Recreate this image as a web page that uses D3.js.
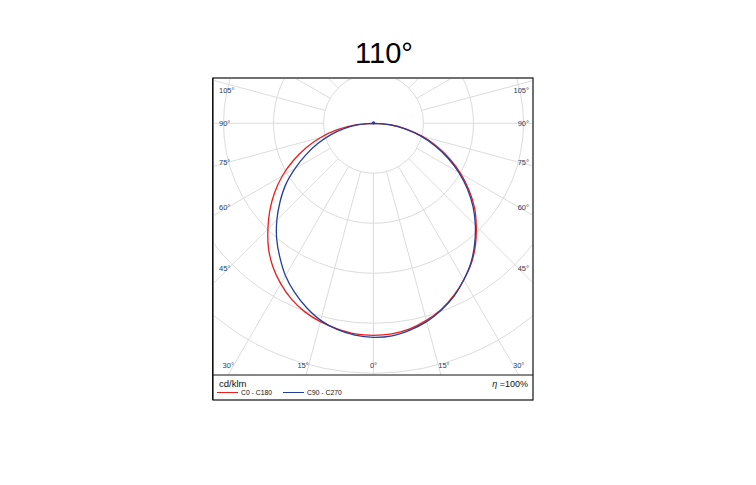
<!DOCTYPE html>
<html><head><meta charset="utf-8">
<script src="https://cdn.jsdelivr.net/npm/d3@7/dist/d3.min.js"></script>
<style>body{margin:0;background:#fff}</style>
</head><body>
<svg id="chart" width="756" height="485"></svg>
<script>
// ---- data (cd/klm, angle measured from nadir) ----
const title = "110°";
const angles = [0,5,10,15,20,25,30,35,40,45,50,55,60,65,70,75,80,85,90];
const c0   = [318,317,313,306,297,285,271,256,238,218,198,175,151,126,101,76,50,25,0];
const c180 = [318,317,313,308,301,291,278,263,245,224,203,181,158,133,108,82,55,27,0];
const c90  = [321,320,315,308,298,286,271,255,236,216,195,172,148,123,98,73,48,24,0];
const c270 = [321,319,314,306,294,280,264,245,226,205,183,161,136,112,89,66,44,22,0];
const gridValues = [75,150,225,300,375];
const spokeAngles = d3.range(0,360,15);
const angleLabels = [0,15,30,45,60,75,90,105];
const seriesNames = ["C0 - C180","C90 - C270"];
const seriesColors = ["#ee1c1c","#233f9a"];
const unit = "cd/klm";
const efficiency = "100%";

// ---- layout ----
const svg = d3.select("#chart");
const F = {l:213, t:78, r:533, b:400, sep:375};
const cx = 373.5, cy = 123.3;
const rScale = d3.scaleLinear().domain([0,375]).range([0,250]);
const rad = d => d*Math.PI/180;
const px = (v,a) => cx + rScale(v)*Math.sin(rad(a));
const py = (v,a) => cy + rScale(v)*Math.cos(rad(a));

svg.append("text").attr("x",384).attr("y",63).attr("text-anchor","middle")
  .attr("font-family","Liberation Sans, Arial, sans-serif").attr("font-size",29)
  .attr("fill","#000").text(title);

svg.append("clipPath").attr("id","plotclip").append("rect")
  .attr("x",F.l+1).attr("y",F.t+1).attr("width",F.r-F.l-2).attr("height",F.sep-F.t-1);

const g = svg.append("g").attr("clip-path","url(#plotclip)");
g.selectAll("circle.grid").data(gridValues).join("circle")
  .attr("cx",cx).attr("cy",cy).attr("r",d=>rScale(d))
  .attr("fill","none").attr("stroke","#dcdcdc").attr("stroke-width",1);
g.selectAll("line.spoke").data(spokeAngles).join("line")
  .attr("x1",a=>px(gridValues[0],a)).attr("y1",a=>py(gridValues[0],a))
  .attr("x2",a=>px(700,a)).attr("y2",a=>py(700,a))
  .attr("stroke","#dcdcdc").attr("stroke-width",1);

const line = d3.line().x(d=>px(d.v,d.a)).y(d=>py(d.v,d.a)).curve(d3.curveCatmullRom);
function pts(left,right){
  const L = angles.map((a,i)=>({a:-a,v:left[i]})).reverse();
  const R = angles.slice(1).map((a,i)=>({a:a,v:right[i+1]}));
  return L.concat(R);
}
g.append("path").attr("d",line(pts(c180,c0))).attr("fill","none")
  .attr("stroke",seriesColors[0]).attr("stroke-width",1.3);
g.append("path").attr("d",line(pts(c270,c90))).attr("fill","none")
  .attr("stroke",seriesColors[1]).attr("stroke-width",1.3);
g.append("circle").attr("cx",cx).attr("cy",cy-0.5).attr("r",1.6).attr("fill",seriesColors[1]);

// angle labels
const lab = svg.append("g").attr("font-family","Liberation Sans, Arial, sans-serif")
  .attr("font-size",7.5).attr("fill","#23405e");
const side = 145, bottomY = 365, leftX = 219, rightX = 529;
angleLabels.forEach(a=>{
  if (a >= 45) {
    let y = cy + side/Math.tan(rad(a));
    y = Math.max(y, 90);
    lab.append("text").attr("x",leftX).attr("y",y).attr("dy","0.35em").text(a+"°");
    lab.append("text").attr("x",rightX).attr("y",y).attr("dy","0.35em").attr("text-anchor","end").text(a+"°");
  } else if (a === 0) {
    lab.append("text").attr("x",cx).attr("y",bottomY).attr("dy","0.35em").attr("text-anchor","middle").text(a+"°");
  } else {
    const dx = (bottomY-cy)*Math.tan(rad(a));
    lab.append("text").attr("x",Math.max(cx-dx,leftX+12)).attr("y",bottomY).attr("dy","0.35em").attr("text-anchor","end").text(a+"°");
    lab.append("text").attr("x",Math.min(cx+dx,rightX-12)).attr("y",bottomY).attr("dy","0.35em").attr("text-anchor","start").text(a+"°");
  }
});

// frame
svg.append("rect").attr("x",F.l).attr("y",F.t).attr("width",F.r-F.l).attr("height",F.b-F.t)
  .attr("fill","none").attr("stroke","#111").attr("stroke-width",1.2);
svg.append("line").attr("x1",F.l-0.5).attr("x2",F.l-0.5).attr("y1",F.t).attr("y2",F.b)
  .attr("stroke","#111").attr("stroke-width",1);
svg.append("line").attr("x1",F.l).attr("x2",F.r).attr("y1",F.sep).attr("y2",F.sep)
  .attr("stroke","#111").attr("stroke-width",1.2);

// legend
const lg = svg.append("g").attr("font-family","Liberation Sans, Arial, sans-serif").attr("fill","#111");
lg.append("text").attr("x",219).attr("y",387).attr("font-size",9.5).text(unit);
const legX = [217,283];
seriesNames.forEach((n,i)=>{
  lg.append("line").attr("x1",legX[i]).attr("x2",legX[i]+21).attr("y1",392.5).attr("y2",392.5)
    .attr("stroke",seriesColors[i]).attr("stroke-width",1);
  lg.append("text").attr("x",legX[i]+24).attr("y",395).attr("font-size",6.8).text(n);
});
const eta = lg.append("text").attr("x",528).attr("y",387).attr("text-anchor","end").attr("font-size",9);
eta.append("tspan").attr("font-style","italic").text("η");
eta.append("tspan").text(" =" + efficiency);
</script>
</body></html>
